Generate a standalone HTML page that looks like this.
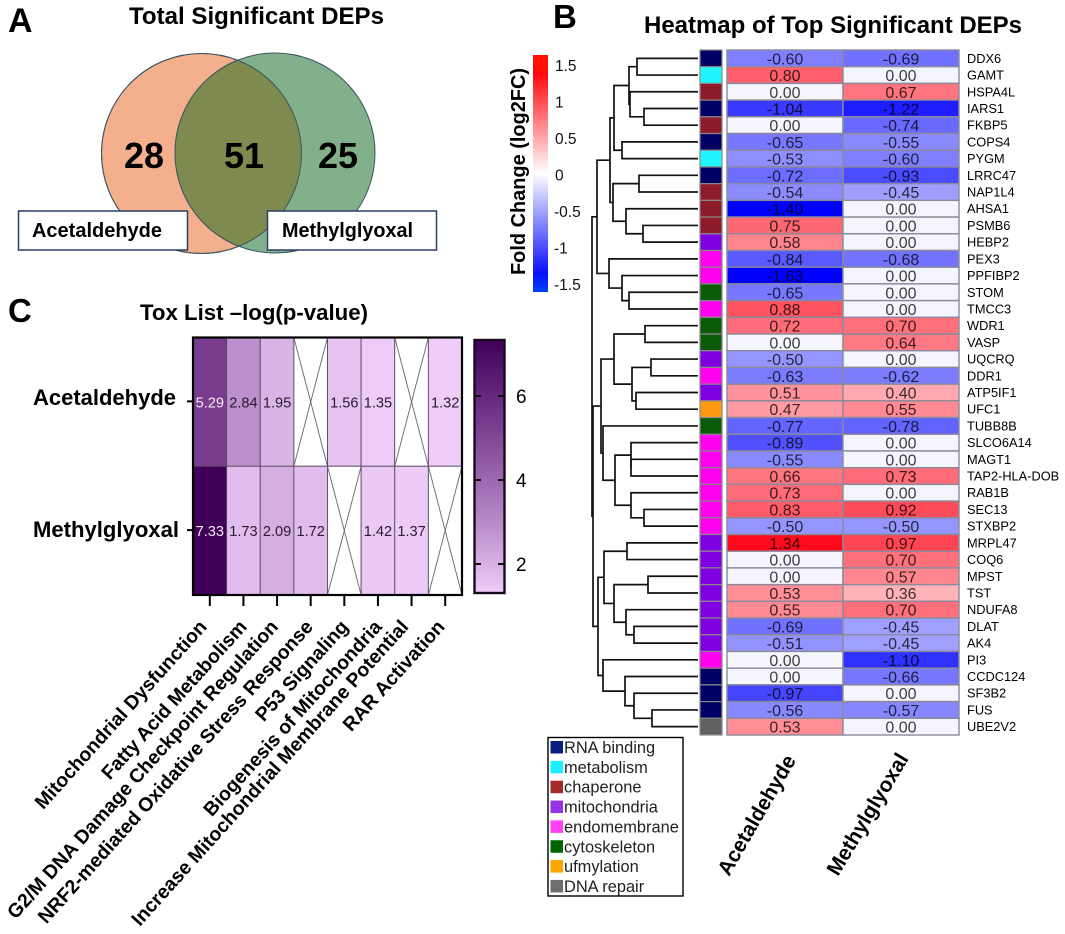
<!DOCTYPE html>
<html lang="en">
<head>
<meta charset="utf-8">
<title>Proteomics figure: DEP Venn, Tox List heatmap and DEP heatmap</title>
<style>
html,body{margin:0;padding:0;background:#fff;}
body{width:1065px;height:934px;overflow:hidden;}
svg{display:block;font-family:"Liberation Sans",Arial,sans-serif;}
text{fill:#000;}
.b{font-weight:bold;}
</style>
</head>
<body>
<svg id="fig" xmlns="http://www.w3.org/2000/svg" width="1065" height="934" viewBox="0 0 1065 934">
  <defs>
    <clipPath id="left-clip"><circle cx="201.5" cy="153.5" r="100"/></clipPath>
    <linearGradient id="fc-grad" x1="0" y1="0" x2="0" y2="1">
      <stop offset="0" stop-color="#ff1500"/>
      <stop offset="0.08" stop-color="#ff0a10"/>
      <stop offset="0.5" stop-color="#ffffff"/>
      <stop offset="0.92" stop-color="#0a10ff"/>
      <stop offset="1" stop-color="#0040ff"/>
    </linearGradient>
    <linearGradient id="tox-grad" x1="0" y1="0" x2="0" y2="1">
      <stop offset="0" stop-color="#40005a"/>
      <stop offset="0.34" stop-color="#7a3d8e"/>
      <stop offset="0.72" stop-color="#b78ac9"/>
      <stop offset="1" stop-color="#eecdf8"/>
    </linearGradient>
  </defs>

  <g>
    <text class="b" x="8" y="32" font-size="34">A</text>
    <text class="b" x="129" y="24" font-size="24" textLength="255" lengthAdjust="spacingAndGlyphs">Total Significant DEPs</text>
    <circle cx="201.5" cy="153.5" r="100" fill="#f4b08d" stroke="#3b5560" stroke-width="1"/>
    <circle cx="275" cy="153" r="100" fill="#82b08a" stroke="#3b5560" stroke-width="1"/>
    <circle cx="275" cy="153" r="100" fill="#7f8a4e" stroke="#3b5560" stroke-width="1" clip-path="url(#left-clip)"/>
    <circle cx="201.5" cy="153.5" r="100" fill="none" stroke="#3b5560" stroke-width="1"/>
    <text class="b" x="144" y="168" font-size="36" text-anchor="middle">28</text>
    <text class="b" x="244" y="168" font-size="36" text-anchor="middle">51</text>
    <text class="b" x="338" y="168" font-size="36" text-anchor="middle">25</text>
    <rect x="18.5" y="211" width="169" height="39" fill="#fff" stroke="#2a3f6a" stroke-width="1.5"/>
    <text class="b" x="32" y="237" font-size="20" textLength="130" lengthAdjust="spacingAndGlyphs">Acetaldehyde</text>
    <rect x="267.5" y="211" width="169" height="39" fill="#fff" stroke="#2a3f6a" stroke-width="1.5"/>
    <text class="b" x="282" y="237" font-size="20" textLength="131" lengthAdjust="spacingAndGlyphs">Methylglyoxal</text>
  </g>

  <g id="panel-c">
    <text class="b" x="8" y="322" font-size="33">C</text>
    <text class="b" x="140" y="320" font-size="22" textLength="228" lengthAdjust="spacingAndGlyphs">Tox List –log(p-value)</text>
  </g>

  <g id="panel-b">
    <text class="b" x="553" y="28" font-size="33">B</text>
    <text class="b" x="644" y="33" font-size="24" textLength="378" lengthAdjust="spacingAndGlyphs">Heatmap of Top Significant DEPs</text>
    <text class="b" transform="translate(525 275) rotate(-90)" font-size="20" textLength="207" lengthAdjust="spacingAndGlyphs">Fold Change (log2FC)</text>
    <rect x="533" y="55" width="15" height="237" fill="url(#fc-grad)"/>
  </g>
</svg>

<script>
/* ---------- Panel C data ---------- */
var toxPathways = ["Mitochondrial Dysfunction","Fatty Acid Metabolism","G2/M DNA Damage Checkpoint Regulation","NRF2-mediated Oxidative Stress Response","P53 Signaling","Biogenesis of Mitochondria","Increase Mitochondrial Membrane Potential","RAR Activation"];
var toxTreatments = ["Acetaldehyde","Methylglyoxal"];
var toxAcetaldehyde = [5.29,2.84,1.95,null,1.56,1.35,null,1.32];
var toxMethylglyoxal = [7.33,1.73,2.09,1.72,null,1.42,1.37,null];
var toxTicks = [2,4,6];

/* ---------- Panel B data ---------- */
var genes = ["DDX6","GAMT","HSPA4L","IARS1","FKBP5","COPS4","PYGM","LRRC47","NAP1L4","AHSA1","PSMB6","HEBP2","PEX3","PPFIBP2","STOM","TMCC3","WDR1","VASP","UQCRQ","DDR1","ATP5IF1","UFC1","TUBB8B","SLCO6A14","MAGT1","TAP2-HLA-DOB","RAB1B","SEC13","STXBP2","MRPL47","COQ6","MPST","TST","NDUFA8","DLAT","AK4","PI3","CCDC124","SF3B2","FUS","UBE2V2"];
var fcAcetaldehyde = [-0.60,0.80,0.00,-1.04,0.00,-0.65,-0.53,-0.72,-0.54,-1.40,0.75,0.58,-0.84,-1.63,-0.65,0.88,0.72,0.00,-0.50,-0.63,0.51,0.47,-0.77,-0.89,-0.55,0.66,0.73,0.83,-0.50,1.34,0.00,0.00,0.53,0.55,-0.69,-0.51,0.00,0.00,-0.97,-0.56,0.53];
var fcMethylglyoxal = [-0.69,0.00,0.67,-1.22,-0.74,-0.55,-0.60,-0.93,-0.45,0.00,0.00,0.00,-0.68,0.00,0.00,0.00,0.70,0.64,0.00,-0.62,0.40,0.55,-0.78,0.00,0.00,0.73,0.00,0.92,-0.50,0.97,0.70,0.57,0.36,0.70,-0.45,-0.45,-1.10,-0.66,0.00,-0.57,0.00];
var geneCategories = ["RNA binding","metabolism","chaperone","RNA binding","chaperone","RNA binding","metabolism","RNA binding","chaperone","chaperone","chaperone","mitochondria","endomembrane","endomembrane","cytoskeleton","endomembrane","cytoskeleton","cytoskeleton","mitochondria","endomembrane","mitochondria","ufmylation","cytoskeleton","endomembrane","endomembrane","endomembrane","endomembrane","endomembrane","endomembrane","mitochondria","mitochondria","mitochondria","mitochondria","mitochondria","mitochondria","mitochondria","endomembrane","RNA binding","RNA binding","RNA binding","DNA repair"];
var legendCategories = ["RNA binding","metabolism","chaperone","mitochondria","endomembrane","cytoskeleton","ufmylation","DNA repair"];
var legendColors = ["#0a1e80","#19f0ff","#a52a2a","#9a30e8","#ff40f0","#006400","#ffa500","#6e6e6e"];
var annotationColors = ["#000064","#1ff5ff","#8f1a2a","#7f00e0","#ff00f0","#0a5a0a","#ff9a10","#606060"];
var fcTicks = [1.5,1,0.5,0,-0.5,-1,-1.5];
var fcColumns = ["Acetaldehyde","Methylglyoxal"];
/* Dendrogram merges: [merge distance, left child, right child]; a number alone is a gene row. */
var dendrogram = [106,
  [101,
    [88,
      [84,[69,[61,0,1],[68,2,[54,3,4]]],[76,5,6]],
      [85,[59,7,8],[72,9,[55,10,11]]]],
    [89,12,[76,13,[69,14,15]]]],
  [105,
    [97,
      [84,[53,16,17],[66,[47,18,19],[62,20,21]]],
      [95,22,[83,[67,23,[67,24,25]],[67,26,[54,27,28]]]]],
    [100,
      [94,[71,29,30],[84,[50,31,32],[72,33,[64,34,35]]]],
      [95,36,[73,37,[64,38,[46,39,40]]]]]]];

var NS = "http://www.w3.org/2000/svg";
function make(tag, attrs, parent, txt){
  var el = document.createElementNS(NS, tag);
  for (var k in attrs) el.setAttribute(k, attrs[k]);
  if (txt !== undefined) el.textContent = txt;
  parent.appendChild(el);
  return el;
}
function slug(s){ return String(s).toLowerCase().replace(/[^a-z0-9]+/g,"-").replace(/^-|-$/g,""); }
function mix(a,b,t){ return a.map(function(v,i){ return Math.round(v+(b[i]-v)*t); }); }
function rgb(c){ return "rgb("+c.join(",")+")"; }

/* ---------- Panel C ---------- */
var panelC = document.getElementById("panel-c");
var toxLeft = 193, toxRight = 462, toxTop = 337.5, toxBottom = 595;
var toxCellW = (toxRight - toxLeft) / toxPathways.length;
var toxCellH = (toxBottom - toxTop) / toxTreatments.length;
var toxLabelNudge = [-2,4.4,2,3.3,5,5,-2,0.6];
var toxStops = [[1.32,[238,205,248]],[3,[183,138,201]],[5.29,[122,61,142]],[7.33,[64,0,90]]];
function toxColor(v){
  for (var i = 1; i < toxStops.length; i++){
    if (v <= toxStops[i][0]){
      var t = (v - toxStops[i-1][0]) / (toxStops[i][0] - toxStops[i-1][0]);
      return rgb(mix(toxStops[i-1][1], toxStops[i][1], Math.max(0,t)));
    }
  }
  return rgb(toxStops[toxStops.length-1][1]);
}
function toxX(i){ return toxLeft + i * toxCellW; }
function toxY(r){ return toxTop + r * toxCellH; }
function toxBarY(v){ return 564 - (v - 2) * 42; }

[toxAcetaldehyde, toxMethylglyoxal].forEach(function(series, r){
  series.forEach(function(v, i){
    var cellName = "tox-cell-" + slug(toxTreatments[r]) + "-" + slug(toxPathways[i]);
    var cell = make("rect",{x:toxX(i),y:toxY(r),width:toxCellW,height:toxCellH,fill:v===null?"#fff":toxColor(v),stroke:"#5a4a60","stroke-width":0.9},panelC);
    
    
    if (v === null){
      var c1 = make("line",{x1:toxX(i),y1:toxY(r),x2:toxX(i+1),y2:toxY(r+1),stroke:"#666","stroke-width":0.9},panelC);
      
      
      var c2 = make("line",{x1:toxX(i+1),y1:toxY(r),x2:toxX(i),y2:toxY(r+1),stroke:"#666","stroke-width":0.9},panelC);
      
      
    } else {
      var label = make("text",{x:toxX(i)+toxCellW/2,y:toxY(r)+toxCellH/2+5.5,"font-size":14.6,"text-anchor":"middle",style:"fill:"+(v>4?"#f4e6f8":"#2a1a30")},panelC,v.toFixed(2));
      
      
    }
  });
});
var toxFrame = make("rect",{x:toxLeft,y:toxTop,width:toxRight-toxLeft,height:toxBottom-toxTop,fill:"none",stroke:"#000","stroke-width":2.2},panelC);



toxTreatments.forEach(function(name, r){
  var yc = toxY(r) + toxCellH/2 - 0.5;
  var tick = make("line",{x1:187,x2:toxLeft,y1:yc,y2:yc,stroke:"#000","stroke-width":2},panelC);
  
  
  var lab = make("text",{x:33,y:r===0?405:537,"font-size":22,"font-weight":"bold",textLength:r===0?143:146,lengthAdjust:"spacingAndGlyphs"},panelC,name);
  
  
});
toxPathways.forEach(function(name, i){
  var xc = toxX(i) + toxCellW/2;
  var tick = make("line",{x1:xc,x2:xc,y1:toxBottom,y2:toxBottom+11,stroke:"#000","stroke-width":2},panelC);
  
  
  var lab = make("text",{transform:"translate("+(xc+toxLabelNudge[i])+" 627.5) rotate(-48)","font-size":19.5,"font-weight":"bold","text-anchor":"end"},panelC,name);
  
  
});
var toxBar = make("rect",{x:474.5,y:340,width:30,height:253,fill:"url(#tox-grad)",stroke:"#1a0a20","stroke-width":2.4},panelC);


toxTicks.forEach(function(t){
  var y = toxBarY(t);
  var a = make("line",{x1:474.5,x2:481,y1:y,y2:y,stroke:"#111","stroke-width":2},panelC);
  
  
  var b = make("line",{x1:498,x2:504.5,y1:y,y2:y,stroke:"#111","stroke-width":2},panelC);
  
  
  var l = make("text",{x:516,y:y+7,"font-size":19},panelC,String(t));
  
  
});

/* ---------- Panel B ---------- */
var panelB = document.getElementById("panel-b");
var rowTop = 50, rowH = 685 / genes.length;
var colLeft = 727, colW = 116;
var annLeft = 700, annW = 22;
var leafX = 698;
function rowY(i){ return rowTop + i * rowH; }
function rowMid(i){ return rowY(i) + rowH/2; }
function fcColor(v){
  if (v === 0) return "#f5f5fd";
  var a = Math.abs(v);
  var t = Math.min(1, a < 0.6 ? a / 1.2 : 0.5 + (a - 0.6) * 0.625);
  return v > 0 ? rgb(mix([255,255,255],[255,0,20],t)) : rgb(mix([255,255,255],[0,0,255],t));
}
function fcBarY(v){ return 175 - v * 73; }
function depthX(d){ return leafX - d; }

fcTicks.forEach(function(t){
  var l = make("text",{x:t<0?554:555,y:fcBarY(t)+5.5,"font-size":15.5,style:"fill:#111"},panelB,String(t));
  
  
});

[fcAcetaldehyde, fcMethylglyoxal].forEach(function(series, c){
  series.forEach(function(v, i){
    var cell = make("rect",{x:colLeft+c*colW,y:rowY(i),width:colW,height:rowH,fill:fcColor(v),stroke:"#8a8a9c","stroke-width":1.4},panelB);
    
    
  });
});
[fcAcetaldehyde, fcMethylglyoxal].forEach(function(series, c){
  series.forEach(function(v, i){
    var tx = make("text",{x:colLeft+c*colW+colW/2,y:rowMid(i)+6,"font-size":16,"text-anchor":"middle",style:"fill:#000;fill-opacity:0.76"},panelB,v.toFixed(2));
    
    
  });
});
genes.forEach(function(g, i){
  var cat = legendCategories.indexOf(geneCategories[i]);
  var sw = make("rect",{x:annLeft,y:rowY(i),width:annW,height:rowH,fill:annotationColors[cat],stroke:"#8a8a8a","stroke-width":1.2},panelB);
  
  
  var lab = make("text",{x:967,y:rowMid(i)+4.5,"font-size":12.8},panelB,g);
  
  
});

function drawTree(node){
  if (typeof node === "number") return {x:leafX, y:rowMid(node)};
  var a = drawTree(node[1]), b = drawTree(node[2]);
  var x = depthX(node[0]);
  var p = make("path",{d:"M"+a.x+" "+a.y+"H"+x+"V"+b.y+"H"+b.x,fill:"none",stroke:"#111","stroke-width":1.7},panelB);
  
  
  return {x:x, y:(a.y+b.y)/2};
}
drawTree(dendrogram);

var legendBox = make("rect",{x:548,y:737.5,width:135,height:158.5,fill:"#fff",stroke:"#000","stroke-width":1.4},panelB);


legendCategories.forEach(function(name, i){
  var y = 741 + i * 19.85;
  var s = make("rect",{x:550.5,y:y,width:12.5,height:12.5,fill:legendColors[i]},panelB);
  
  
  var t = make("text",{x:564,y:y+12,"font-size":16.4,style:"fill:#222"},panelB,name);
  
  
});
fcColumns.forEach(function(name, c){
  var t = make("text",{transform:"translate("+(c===0?729:838)+" 877) rotate("+(c===0?-60:-59)+")","font-size":21,"font-weight":"bold",textLength:c===0?135:138,lengthAdjust:"spacingAndGlyphs"},panelB,name);
  
  
});
</script>
</body>
</html>
